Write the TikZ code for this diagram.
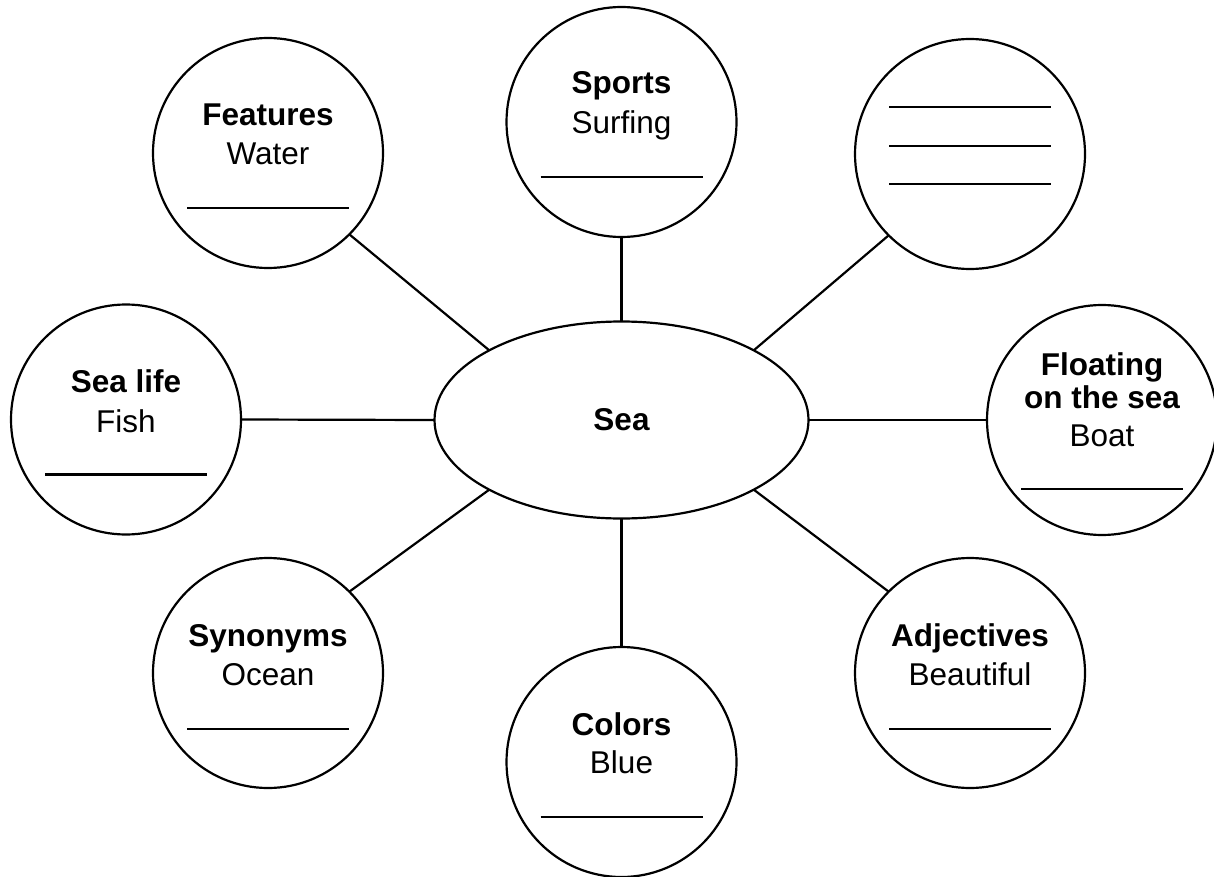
\documentclass[tikz,border=0pt]{standalone}
\usepackage{fontspec}
\setmainfont{Liberation Sans}
\usetikzlibrary{shapes.geometric,calc}
\begin{document}
\begin{tikzpicture}[x=1pt,y=-1pt,
  bubble/.style={circle,draw,line width=2.2pt,minimum size=230pt,inner sep=0pt,outer sep=0pt},
  hub/.style={ellipse,draw,line width=2.2pt,minimum width=374pt,minimum height=197pt,inner sep=0pt,outer sep=0pt,font=\fontsize{31.5}{38}\selectfont\bfseries},
  conn/.style={line width=2.2pt},
  uline/.style={line width=2.7pt},
  lbl/.style={anchor=base,inner sep=0pt,font=\fontsize{31.5}{38}\selectfont},
  hd/.style={anchor=base,inner sep=0pt,font=\fontsize{31.5}{38}\selectfont\bfseries}]
\clip (0,0) rectangle (1214,877);
\fill[white] (0,0) rectangle (1214,877);

% hub
\node[hub] (sea) at (621.5,420) {Sea};

% bubbles
\node[bubble] (feat) at (268,153) {};
\node[bubble] (sports) at (621.5,122) {};
\node[bubble] (blank) at (970,154) {};
\node[bubble] (life) at (126,419.5) {};
\node[bubble] (float) at (1102,420) {};
\node[bubble] (colors) at (621.5,762) {};
\node[bubble] (syn) at (268,673) {};
\node[bubble] (adj) at (970,673) {};

% connectors
\draw[conn] (feat.south east) -- (sea.north west);
\draw[conn] (sports.south) -- (sea.north);
\draw[conn] (blank.south west) -- (sea.north east);
\draw[conn] (life.east) -- (sea.west);
\draw[conn] (float.west) -- (sea.east);
\draw[conn] (syn.north east) -- (sea.south west);
\draw[conn] (colors.north) -- (sea.south);
\draw[conn] (adj.north west) -- (sea.south east);

% texts
\node[hd]  (featH) at ($(feat)+(0,-27)$) {Features};
\node[lbl] (featT) at ($(feat)+(0,12)$) {Water};
\draw[uline] ($(feat)+(-81,55)$) -- ($(feat)+(81,55)$);

\node[hd]  (sportsH) at ($(sports)+(0,-28)$) {Sports};
\node[lbl] (sportsT) at ($(sports)+(0,12)$) {Surfing};
\draw[uline] ($(sports)+(-81,55)$) -- ($(sports)+(81,55)$);

\draw[uline] ($(blank)+(-81,-47)$) -- ($(blank)+(81,-47)$);
\draw[uline] ($(blank)+(-81,-8)$) -- ($(blank)+(81,-8)$);
\draw[uline] ($(blank)+(-81,30)$) -- ($(blank)+(81,30)$);

\node[hd]  (lifeH) at ($(life)+(0,-27)$) {Sea life};
\node[lbl] (lifeT) at ($(life)+(0,13)$) {Fish};
\draw[uline] ($(life)+(-81,55)$) -- ($(life)+(81,55)$);

\node[hd]  (floatH) at ($(float)+(0,-45)$) {Floating};
\node[hd]  (floatH2) at ($(float)+(0,-12)$) {on the sea};
\node[lbl] (floatT) at ($(float)+(0,26)$) {Boat};
\draw[uline] ($(float)+(-81,69)$) -- ($(float)+(81,69)$);

\node[hd]  (colorsH) at ($(colors)+(0,-27)$) {Colors};
\node[lbl] (colorsT) at ($(colors)+(0,11)$) {Blue};
\draw[uline] ($(colors)+(-81,55)$) -- ($(colors)+(81,55)$);

\node[hd]  (synH) at ($(syn)+(0,-27)$) {Synonyms};
\node[lbl] (synT) at ($(syn)+(0,12)$) {Ocean};
\draw[uline] ($(syn)+(-81,56)$) -- ($(syn)+(81,56)$);

\node[hd]  (adjH) at ($(adj)+(0,-27)$) {Adjectives};
\node[lbl] (adjT) at ($(adj)+(0,12)$) {Beautiful};
\draw[uline] ($(adj)+(-81,56)$) -- ($(adj)+(81,56)$);
\end{tikzpicture}
\end{document}
